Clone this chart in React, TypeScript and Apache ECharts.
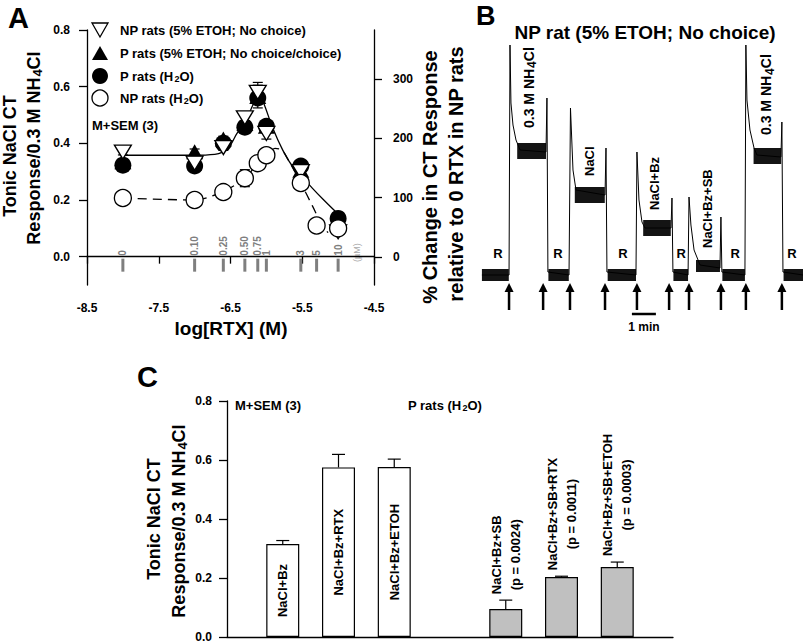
import React, { useEffect, useRef } from 'react';
import * as echarts from 'echarts';

const FF = 'Arial, "Liberation Sans", Helvetica, sans-serif';

// ---------------- Panel A data ----------------
const etohLogX = [-8.0, -7.0, -6.6, -6.3, -6.12, -6.0, -5.52, -5.0];
const npEtohY = [0.369, 0.33, 0.385, 0.49, 0.58, 0.435, 0.3, 0.088];
const npEtohErr = [0.01, 0.01, 0.01, 0.01, 0.035, 0.02, 0.01, 0.01];
const pEtohY = [0.335, 0.37, 0.415, 0.47, 0.565, 0.46, 0.305, 0.125];
const pEtohErr = [0.01, 0.01, 0.01, 0.01, 0.04, 0.02, 0.01, 0.01];
const pH2oY = [0.323, 0.32, 0.4, 0.457, 0.56, 0.46, 0.32, 0.135];
const pH2oErr = [0.01, 0.01, 0.01, 0.01, 0.02, 0.02, 0.01, 0.01];
const npH2oLogX = [-8.0, -7.0, -6.6, -6.3, -6.12, -6.0, -5.52, -5.3, -5.0];
const npH2oY = [0.207, 0.2, 0.228, 0.277, 0.33, 0.358, 0.26, 0.11, 0.1];
const npH2oErr = [0.01, 0.01, 0.01, 0.03, 0.015, 0.015, 0.01, 0.01, 0.01];

const solidFitX = [-8.0, -7.0, -6.72, -6.62, -6.51, -6.41, -6.3, -6.21, -6.14, -6.09, -6.03, -5.91, -5.77, -5.64, -5.52, -5.36, -5.2, -5.03, -4.97];
const solidFitY = [0.358, 0.358, 0.361, 0.368, 0.39, 0.435, 0.47, 0.523, 0.558, 0.568, 0.537, 0.453, 0.375, 0.32, 0.288, 0.242, 0.2, 0.158, 0.147];
const dashedFitX = [-8.0, -7.0, -6.62, -6.3, -6.12, -6.0, -5.88, -5.78, -5.67, -5.52, -5.36, -5.22, -5.14];
const dashedFitY = [0.207, 0.2, 0.228, 0.277, 0.33, 0.358, 0.382, 0.375, 0.33, 0.26, 0.18, 0.11, 0.085];

const concLogX = [-8.0, -7.0, -6.6, -6.3, -6.12, -6.0, -5.52, -5.3, -5.0];
const concLabels = ['0', '0.10', '0.25', '0.50', '0.75', '1', '3', '5', '10'];
const leftTicksA = [0, 0.2, 0.4, 0.6, 0.8];
const rightTicksA = [0, 100, 200, 300];

// ---------------- Panel B data (trace, minutes vs relative response) ----------------
const traceT = [0.08, 1.21, 1.25, 1.29, 1.375, 1.5, 1.67, 2.75, 2.79, 2.83,
  3.71, 3.77, 3.875, 4.0, 5.21, 5.25, 5.29,
  6.5, 6.54, 6.625, 6.75, 6.875, 7.96, 8.0, 8.04,
  8.67, 8.71, 8.79, 8.92, 9.17, 10.0, 10.04, 10.08,
  11.04, 11.08, 11.125, 11.25, 11.42, 11.54, 12.54, 12.58, 12.625, 13.46];
const traceV = [0, 0, 23, 17.2, 15, 13.5, 12.5, 12.3, 17.7, 0.3,
  0, 16.7, 10.5, 8.5, 8, 12.7, 0.3,
  0, 12.3, 7.5, 5.3, 4.7, 4.7, 7.7, 0.3,
  0, 7.8, 5, 2.5, 1, 0.7, 5.8, 0.3,
  0, 23, 17.5, 14.5, 12.7, 12, 11.8, 15.3, 0.3, 0];
const noiseStart = [0.08, 1.55, 2.85, 3.95, 5.32, 6.8, 8.06, 9.0, 10.1, 11.4, 12.65];
const noiseEnd = [1.2, 2.75, 3.7, 5.2, 6.5, 7.95, 8.67, 10.0, 11.04, 12.55, 13.46];
const noiseLevel = [0, 12.4, 0, 8.0, 0, 4.7, 0, 0.9, 0, 11.9, 0];
const arrowT = [1.21, 2.63, 3.75, 5.21, 6.54, 7.88, 8.71, 10.04, 11.08, 12.58];
const rinseT = [0.75, 3.25, 5.96, 8.38, 10.63, 13.0];
const stimNames = ['0.3 M NH{s|4}Cl', 'NaCl', 'NaCl+Bz', 'NaCl+Bz+SB', '0.3 M NH{s|4}Cl'];
const stimT = [2.04, 4.58, 7.29, 9.46, 11.92];
const stimV = [14.7, 9.9, 6.5, 2.7, 14.0];
const scaleBarT = [6.33, 7.33];

// ---------------- Panel C data ----------------
const cBarX = [1, 2, 3, 5, 6, 7];
const cBarVal = [0.315, 0.575, 0.576, 0.095, 0.203, 0.237];
const cBarErr = [0.012, 0.044, 0.027, 0.03, 0.003, 0.017];
const cBarLabels = ['NaCl+Bz', 'NaCl+Bz+RTX', 'NaCl+Bz+ETOH', 'NaCl+Bz+SB', 'NaCl+Bz+SB+RTX', 'NaCl+Bz+SB+ETOH'];
const cBarP = ['', '', '', '(p = 0.0024)', '(p = 0.0011)', '(p = 0.0003)'];
const cBarGroup = ['ctrl', 'ctrl', 'ctrl', 'sb', 'sb', 'sb'];

const subRich = (size: number) => ({
  s: { fontSize: size, fontWeight: 'bold', fontFamily: FF, fill: '#000', color: '#000', padding: [Math.round(size * 0.55), 0, 0, 1] },
});

function txt(x: number, y: number, text: string, size: number, opts: any = {}) {
  const align = opts.align || 'left';
  const valign = opts.valign || 'middle';
  return {
    type: 'text',
    x,
    y,
    rotation: opts.rot ? Math.PI / 2 : 0,
    silent: true,
    style: {
      text,
      fontSize: size,
      fontWeight: opts.weight || 'bold',
      fontFamily: FF,
      fill: opts.color || '#000',
      textFill: opts.color || '#000',
      align,
      textAlign: align,
      verticalAlign: valign,
      textVerticalAlign: valign,
      rich: subRich(opts.sub || Math.round(size * 0.72)),
    },
  };
}

export default function App() {
  const ref = useRef<HTMLDivElement>(null);
  useEffect(() => {
    document.body.style.margin = '0';
    const chart = echarts.init(ref.current!, null, { renderer: 'svg' });
    const ctx = document.createElement('canvas').getContext('2d')!;
    const measure = (t: string, font: string) => {
      ctx.font = font;
      return ctx.measureText(t).width;
    };

    const axisLineStyle = { color: '#000', width: 1.3 };
    const tickFont = { fontSize: 12, fontWeight: 'bold', fontFamily: FF, color: '#000' };

    const errA: number[][] = [];
    etohLogX.forEach((x, i) => {
      errA.push([x, pH2oY[i], pH2oErr[i]]);
      errA.push([x, pEtohY[i], pEtohErr[i]]);
      errA.push([x, npEtohY[i], npEtohErr[i]]);
    });
    npH2oLogX.forEach((x, i) => errA.push([x, npH2oY[i], npH2oErr[i]]));

    const errRender = (params: any, api: any) => {
      const x = api.value(0), y = api.value(1), e = api.value(2);
      const top = api.coord([x, y + e]);
      const bot = api.coord([x, y - e]);
      const st = { stroke: '#000', lineWidth: 1.2 };
      return {
        type: 'group',
        children: [
          { type: 'line', shape: { x1: top[0], y1: top[1], x2: bot[0], y2: bot[1] }, style: st },
          { type: 'line', shape: { x1: top[0] - 5, y1: top[1], x2: top[0] + 5, y2: top[1] }, style: st },
          { type: 'line', shape: { x1: bot[0] - 5, y1: bot[1], x2: bot[0] + 5, y2: bot[1] }, style: st },
        ],
      };
    };

    const gray = '#7f7f7f';
    const concRender = (params: any, api: any) => {
      const i = params.dataIndex;
      const p = api.coord([api.value(0), 0]);
      const top = p[1] + 2;
      return {
        type: 'group',
        children: [
          { type: 'rect', shape: { x: p[0] - 1.5, y: top, width: 3, height: 13 }, style: { fill: gray } },
          txt(p[0], top - 3, concLabels[i], 10, { rot: true, color: gray, weight: 'bold' }),
        ],
      };
    };

    const noiseRender = (params: any, api: any) => {
      const a = api.coord([api.value(0), api.value(2)]);
      const b = api.coord([api.value(1), api.value(2)]);
      const h = api.value(2) < 1.5 ? 12 : 16;
      return {
        type: 'rect',
        shape: { x: a[0], y: a[1] - h / 2, width: b[0] - a[0], height: h },
        style: { fill: '#141414' },
      };
    };

    const arrowRender = (params: any, api: any) => {
      const tip = api.coord([api.value(0), -0.8]);
      const end = api.coord([api.value(0), -3.5]);
      return {
        type: 'group',
        children: [
          { type: 'line', shape: { x1: tip[0], y1: tip[1] + 6, x2: end[0], y2: end[1] }, style: { stroke: '#000', lineWidth: 2.5 } },
          { type: 'polygon', shape: { points: [[tip[0], tip[1]], [tip[0] - 4.5, tip[1] + 9], [tip[0] + 4.5, tip[1] + 9]] }, style: { fill: '#000' } },
        ],
      };
    };

    const rinseRender = (params: any, api: any) => {
      const p = api.coord([api.value(0), 2.2]);
      return txt(p[0], p[1], 'R', 13, { align: 'center' });
    };

    const stimRender = (params: any, api: any) => {
      const i = params.dataIndex;
      const p = api.coord([api.value(0), api.value(1)]);
      const isNH4 = stimNames[i].indexOf('NH') >= 0;
      return txt(p[0], p[1], stimNames[i], isNH4 ? 14 : 13, { rot: true, sub: 12 });
    };

    const scaleRender = (params: any, api: any) => {
      const a = api.coord([scaleBarT[0], -3.9]);
      const b = api.coord([scaleBarT[1], -3.9]);
      const c = api.coord([(scaleBarT[0] + scaleBarT[1]) / 2, -5.2]);
      return {
        type: 'group',
        children: [
          { type: 'line', shape: { x1: a[0], y1: a[1], x2: b[0], y2: b[1] }, style: { stroke: '#000', lineWidth: 2.5 } },
          txt(c[0], c[1], '1 min', 12, { align: 'center' }),
        ],
      };
    };

    const errCRender = (params: any, api: any) => {
      const x = api.value(0), y = api.value(1), e = api.value(2);
      const top = api.coord([x, y + e]);
      const bot = api.coord([x, y]);
      const st = { stroke: '#000', lineWidth: 1.2 };
      return {
        type: 'group',
        children: [
          { type: 'line', shape: { x1: top[0], y1: top[1], x2: bot[0], y2: bot[1] }, style: st },
          { type: 'line', shape: { x1: top[0] - 6.5, y1: top[1], x2: top[0] + 6.5, y2: top[1] }, style: st },
        ],
      };
    };

    const sbLabelRender = (params: any, api: any) => {
      const i = api.value(2);
      const p = api.coord([api.value(0), api.value(1)]);
      const font = `bold 13px Arial`;
      const w = Math.max(measure(cBarLabels[i], font), measure(cBarP[i], font));
      return {
        type: 'text',
        x: p[0],
        y: p[1] - 6 - w / 2,
        rotation: Math.PI / 2,
        style: {
          text: cBarLabels[i] + '\n' + cBarP[i],
          fontSize: 13,
          fontWeight: 'bold',
          fontFamily: FF,
          fill: '#000',
          textFill: '#000',
          align: 'center',
          textAlign: 'center',
          verticalAlign: 'middle',
          textVerticalAlign: 'middle',
          lineHeight: 19,
        },
      };
    };

    const lx = 100;
    const legendRows = [30, 53, 76, 98];
    const legendGraphics: any[] = [
      { type: 'polygon', shape: { points: [[lx - 8, legendRows[0] - 7], [lx + 8, legendRows[0] - 7], [lx, legendRows[0] + 7]] }, style: { fill: '#fff', stroke: '#000', lineWidth: 1.3 } },
      { type: 'polygon', shape: { points: [[lx - 8, legendRows[1] + 7], [lx + 8, legendRows[1] + 7], [lx, legendRows[1] - 7]] }, style: { fill: '#000' } },
      { type: 'circle', shape: { cx: lx, cy: legendRows[2], r: 8 }, style: { fill: '#000' } },
      { type: 'circle', shape: { cx: lx, cy: legendRows[3], r: 8 }, style: { fill: '#fff', stroke: '#000', lineWidth: 1.3 } },
      txt(120, legendRows[0], 'NP rats (5% ETOH; No choice)', 13),
      txt(120, legendRows[1], 'P rats (5% ETOH; No choice/choice)', 13),
      txt(120, legendRows[2], 'P rats (H{s|2}O)', 13),
      txt(120, legendRows[3], 'NP rats (H{s|2}O)', 13),
    ];

    const scatterBase = { type: 'scatter', xAxisIndex: 0, yAxisIndex: 0, emphasis: { disabled: true } };

    const option: any = {
      animation: false,
      backgroundColor: '#fff',
      grid: [
        { left: 87, top: 30, width: 287, height: 255 },
        { left: 480, top: 40, width: 323, height: 300 },
        { left: 227, top: 401, width: 446, height: 236 },
      ],
      xAxis: [
        {
          gridIndex: 0, type: 'value', min: -8.5, max: -4.5, interval: 1,
          axisLine: { show: true, lineStyle: axisLineStyle },
          axisTick: { show: true, length: 7, lineStyle: axisLineStyle },
          axisLabel: { ...tickFont, margin: 17, formatter: (v: number) => v.toFixed(1) },
          splitLine: { show: false },
        },
        { gridIndex: 1, type: 'value', min: 0, max: 13.46, show: false },
        {
          gridIndex: 2, type: 'value', min: 0, max: 8,
          axisLine: { show: true, lineStyle: axisLineStyle },
          axisTick: { show: false }, axisLabel: { show: false }, splitLine: { show: false },
        },
      ],
      yAxis: [
        {
          gridIndex: 0, type: 'value', position: 'left', min: -0.1, max: 0.8,
          axisLine: { show: true, lineStyle: axisLineStyle },
          axisTick: { show: true, length: 8, lineStyle: axisLineStyle, customValues: leftTicksA },
          axisLabel: { ...tickFont, margin: 17, customValues: leftTicksA, formatter: (v: number) => v.toFixed(1) },
          splitLine: { show: false },
        },
        {
          gridIndex: 0, type: 'value', position: 'right', min: -47.2, max: 382.6,
          axisLine: { show: true, lineStyle: axisLineStyle },
          axisTick: { show: true, length: 8, lineStyle: axisLineStyle, customValues: rightTicksA },
          axisLabel: { ...tickFont, margin: 19, customValues: rightTicksA },
          splitLine: { show: false },
        },
        { gridIndex: 1, type: 'value', min: -6.5, max: 23.5, show: false },
        {
          gridIndex: 2, type: 'value', min: 0, max: 0.8, interval: 0.2,
          axisLine: { show: true, lineStyle: axisLineStyle },
          axisTick: { show: true, length: 8, lineStyle: axisLineStyle },
          axisLabel: { ...tickFont, margin: 15, formatter: (v: number) => v.toFixed(1) },
          splitLine: { show: false },
        },
      ],
      series: [
        {
          type: 'line', xAxisIndex: 0, yAxisIndex: 0, showSymbol: false, smooth: 0.3,
          data: solidFitX.map((x, i) => [x, solidFitY[i]]),
          lineStyle: { color: '#000', width: 1.3 }, z: 2,
        },
        {
          type: 'line', xAxisIndex: 0, yAxisIndex: 0, showSymbol: false, smooth: 0.3,
          data: dashedFitX.map((x, i) => [x, dashedFitY[i]]),
          lineStyle: { color: '#000', width: 1.3, type: [9, 6] }, z: 2,
        },
        { type: 'custom', xAxisIndex: 0, yAxisIndex: 0, renderItem: errRender, data: errA, z: 3 },
        {
          ...scatterBase, symbol: 'circle', symbolSize: 17,
          data: etohLogX.map((x, i) => [x, pH2oY[i]]), itemStyle: { color: '#000', opacity: 1 }, z: 4,
        },
        {
          ...scatterBase, symbol: 'triangle', symbolSize: [17, 15],
          data: etohLogX.map((x, i) => [x, pEtohY[i]]), itemStyle: { color: '#000', opacity: 1 }, z: 5,
        },
        {
          ...scatterBase, symbol: 'triangle', symbolRotate: 180, symbolSize: [17, 14],
          data: etohLogX.map((x, i) => [x, npEtohY[i]]),
          itemStyle: { color: '#fff', borderColor: '#000', borderWidth: 1.3, opacity: 1 }, z: 6,
        },
        {
          ...scatterBase, symbol: 'circle', symbolSize: 17,
          data: npH2oLogX.map((x, i) => [x, npH2oY[i]]),
          itemStyle: { color: '#fff', borderColor: '#000', borderWidth: 1.3, opacity: 1 }, z: 7,
        },
        {
          type: 'custom', xAxisIndex: 0, yAxisIndex: 0, renderItem: concRender,
          data: concLogX.map((x) => [x]), z: 3,
        },
        {
          type: 'line', xAxisIndex: 1, yAxisIndex: 2, showSymbol: false,
          data: traceT.map((t, i) => [t, traceV[i]]),
          lineStyle: { color: '#000', width: 1 }, z: 3,
        },
        {
          type: 'custom', xAxisIndex: 1, yAxisIndex: 2, renderItem: noiseRender,
          data: noiseStart.map((t, i) => [t, noiseEnd[i], noiseLevel[i]]), z: 2,
        },
        { type: 'custom', xAxisIndex: 1, yAxisIndex: 2, renderItem: arrowRender, data: arrowT.map((t) => [t]) },
        { type: 'custom', xAxisIndex: 1, yAxisIndex: 2, renderItem: rinseRender, data: rinseT.map((t) => [t]) },
        { type: 'custom', xAxisIndex: 1, yAxisIndex: 2, renderItem: stimRender, data: stimT.map((t, i) => [t, stimV[i]]) },
        { type: 'custom', xAxisIndex: 1, yAxisIndex: 2, renderItem: scaleRender, data: [[scaleBarT[0]]] },
        {
          type: 'bar', xAxisIndex: 2, yAxisIndex: 3, barWidth: 33,
          data: cBarX.map((x, i) => ({
            value: [x, cBarVal[i]],
            itemStyle: { color: cBarGroup[i] === 'ctrl' ? '#fff' : '#c0c0c0', borderColor: '#000', borderWidth: 1.2 },
            label: { show: cBarGroup[i] === 'ctrl' },
          })),
          label: {
            position: 'inside', rotate: 90, fontSize: 13, fontWeight: 'bold', fontFamily: FF, color: '#000',
            formatter: (p: any) => cBarLabels[p.dataIndex],
          },
          emphasis: { disabled: true },
          z: 2,
        },
        {
          type: 'custom', xAxisIndex: 2, yAxisIndex: 3, renderItem: errCRender,
          data: cBarX.map((x, i) => [x, cBarVal[i], cBarErr[i]]), z: 3,
        },
        {
          type: 'custom', xAxisIndex: 2, yAxisIndex: 3, renderItem: sbLabelRender,
          data: cBarX.map((x, i) => [x, cBarVal[i] + cBarErr[i], i]).filter((d) => cBarGroup[d[2]] === 'sb'), z: 3,
        },
      ],
      graphic: [
        txt(8, 18, 'A', 29),
        txt(476, 16, 'B', 27),
        txt(137, 377, 'C', 29),
        txt(10, 156, 'Tonic NaCl CT', 18, { rot: true, align: 'center', sub: 13 }),
        txt(34, 148, 'Response/0.3 M NH{s|4}Cl', 18, { rot: true, align: 'center', sub: 13 }),
        txt(430, 177, '% Change in CT Response', 20, { rot: true, align: 'center' }),
        txt(456, 174, 'relative to 0 RTX in NP rats', 20, { rot: true, align: 'center' }),
        txt(231, 328, 'log[RTX] (M)', 19, { align: 'center' }),
        txt(92, 125, 'M+SEM (3)', 13),
        txt(357, 262, '(\u00b5M)', 9, { rot: true, color: '#aaa', weight: 'normal' }),
        ...legendGraphics,
        txt(645, 32, 'NP rat (5% ETOH; No choice)', 19, { align: 'center' }),
        txt(154, 519, 'Tonic NaCl CT', 18, { rot: true, align: 'center', sub: 13 }),
        txt(179, 521, 'Response/0.3 M NH{s|4}Cl', 18, { rot: true, align: 'center', sub: 13 }),
        txt(235, 405, 'M+SEM (3)', 13),
        txt(408, 405, 'P rats (H{s|2}O)', 13),
      ],
    };

    chart.setOption(option);
    return () => chart.dispose();
  }, []);

  return <div ref={ref} style={{ width: 803, height: 643, background: '#fff' }} />;
}
